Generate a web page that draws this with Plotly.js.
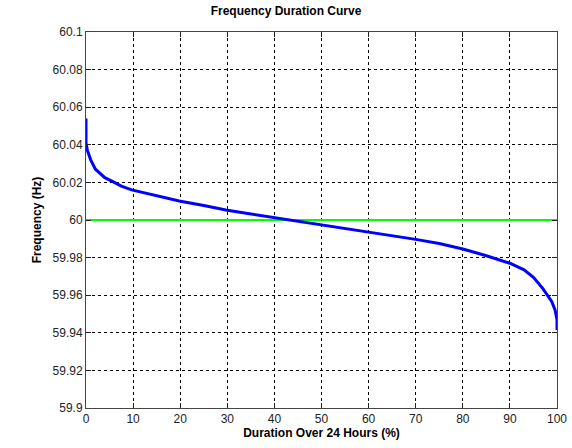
<!DOCTYPE html>
<html><head><meta charset="utf-8">
<script src="https://cdn.plot.ly/plotly-3.0.1.min.js"></script>
<style>html,body{margin:0;padding:0;background:#fff}</style>
</head><body><div id="chart" style="width:572px;height:448px"></div>
<script>
const durationPct = [0, 0, 0.3, 1, 2, 3, 4, 5.7, 7.5, 9.7, 15, 19.8, 25, 29.7, 34, 40, 43, 45, 50, 55, 60, 65, 70, 75, 80, 85, 90, 93, 95, 97, 98.9, 99.6, 100, 100];
const frequencyHz = [60.054, 60.041, 60.037, 60.032, 60.027, 60.0245, 60.0225, 60.0204, 60.018, 60.016, 60.0127, 60.0101, 60.0077, 60.0053, 60.0036, 60.0013, 60.0001, 59.9993, 59.9973, 59.9956, 59.9938, 59.9918, 59.9897, 59.9875, 59.9846, 59.981, 59.977, 59.9735, 59.9695, 59.9635, 59.9565, 59.952, 59.947, 59.9415];
const nominalX = [0, 100];
const nominalY = [60, 60];
const xTicks = [0, 10, 20, 30, 40, 50, 60, 70, 80, 90, 100];
const yTicks = [59.9, 59.92, 59.94, 59.96, 59.98, 60, 60.02, 60.04, 60.06, 60.08, 60.1];
const yTickText = ['59.9', '59.92', '59.94', '59.96', '59.98', '60', '60.02', '60.04', '60.06', '60.08', '60.1'];

const font = 'Arial, "Liberation Sans", sans-serif';
const traces = [
  {x: nominalX, y: nominalY, mode: 'lines', line: {color: '#00ff00', width: 2}, hoverinfo: 'skip'},
  {x: durationPct, y: frequencyHz, mode: 'lines', line: {color: '#0000ff', width: 3}}
];
const axisCommon = {
  showline: true, linecolor: '#444', linewidth: 1, mirror: 'ticks',
  ticks: 'inside', ticklen: 5, tickcolor: '#222',
  showgrid: true, gridcolor: '#000', gridwidth: 1, griddash: '3px,3px',
  zeroline: false, tickfont: {family: font, size: 12, color: '#222'}
};
const layout = {
  width: 572, height: 448,
  margin: {l: 86, r: 15, t: 32, b: 40},
  paper_bgcolor: '#fff', plot_bgcolor: '#fff',
  showlegend: false,
  title: {text: '<b>Frequency Duration Curve</b>', font: {family: font, size: 12, color: '#000'}, x: 0.5, xanchor: 'center', y: 0.975, yanchor: 'middle'},
  xaxis: Object.assign({}, axisCommon, {range: [0, 100], tickvals: xTicks,
    title: {text: '<b>Duration Over 24 Hours (%)</b>', font: {family: font, size: 12, color: '#000'}, standoff: 2}}),
  yaxis: Object.assign({}, axisCommon, {range: [59.9, 60.1], tickvals: yTicks, ticktext: yTickText,
    title: {text: '<b>Frequency (Hz)</b>', font: {family: font, size: 12, color: '#000'}, standoff: 8}})
};
Plotly.newPlot('chart', traces, layout, {displayModeBar: false, staticPlot: true});
</script></body></html>
